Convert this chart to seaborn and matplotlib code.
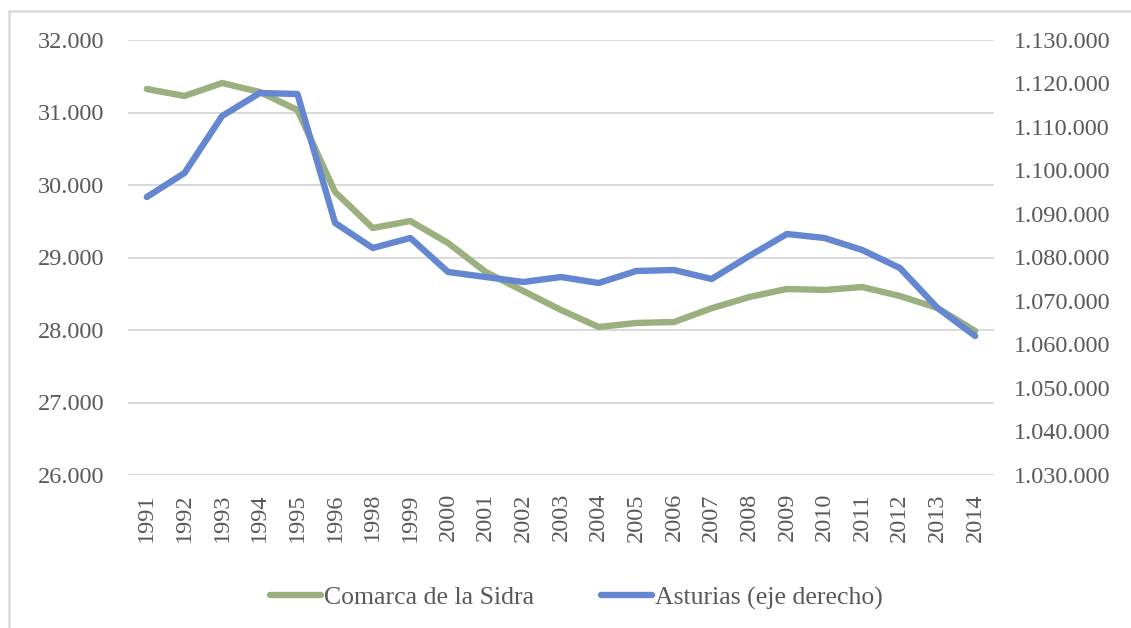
import numpy as np
import pandas as pd
import matplotlib
matplotlib.use('Agg')
import matplotlib.pyplot as plt
from matplotlib.patches import Rectangle
from matplotlib.ticker import FuncFormatter
import seaborn as sns

years = ['1991', '1992', '1993', '1994', '1995', '1996', '1998', '1999', '2000', '2001',
         '2002', '2003', '2004', '2005', '2006', '2007', '2008', '2009', '2010', '2011',
         '2012', '2013', '2014']
comarca = [31324, 31228, 31407, 31283, 31034, 29903, 29407, 29503, 29200, 28800,
           28538, 28276, 28041, 28097, 28110, 28300, 28455, 28566, 28552, 28593,
           28469, 28303, 27986]
asturias = [1093908, 1099425, 1112529, 1117816, 1117586, 1087931, 1082184, 1084483, 1076667, 1075517,
            1074368, 1075517, 1074138, 1076897, 1077126, 1075057, 1080345, 1085402, 1084483, 1081724,
            1077586, 1068391, 1061954]
left_ticks = [26000, 27000, 28000, 29000, 30000, 31000, 32000]
right_ticks = [1030000, 1040000, 1050000, 1060000, 1070000, 1080000, 1090000, 1100000, 1110000, 1120000, 1130000]

GREEN = '#9bb07f'
BLUE = '#6587d1'
TXT = '#595959'
GRID = '#d9d9d9'

sns.set_style('white')
plt.rcParams['font.family'] = ['Liberation Serif', 'DejaVu Serif']
plt.rcParams['font.size'] = 17.5

df = pd.DataFrame({'pos': np.arange(len(years)), 'comarca': comarca, 'asturias': asturias})

def miles(v, _):
	return f"{int(round(v)):,}".replace(',', '.')

fig = plt.figure(figsize=(11.31, 6.28), dpi=100)
ax = fig.add_axes([128/1131, 1-475/628, 866/1131, 435/628])
ax2 = ax.twinx()

sns.lineplot(data=df, x='pos', y='comarca', ax=ax, color=GREEN, lw=4.6, label='Comarca de la Sidra', legend=False)
sns.lineplot(data=df, x='pos', y='asturias', ax=ax2, color=BLUE, lw=4.6, label='Asturias (eje derecho)', legend=False)

ax.set_ylim(left_ticks[0], left_ticks[-1])
ax2.set_ylim(right_ticks[0], right_ticks[-1])
ax.set_yticks(left_ticks)
ax2.set_yticks(right_ticks)
ax.yaxis.set_major_formatter(FuncFormatter(miles))
ax2.yaxis.set_major_formatter(FuncFormatter(miles))
ax.set_xlim(-0.5, len(years)-0.5)
ax.set_xticks(df['pos'])
ax.set_xticklabels(years, rotation=90)

ax.grid(axis='y', color=GRID, lw=1.4)
ax.set_axisbelow(True)
for a in (ax, ax2):
	for s in a.spines.values():
		s.set_visible(False)
	a.set_xlabel('')
	a.set_ylabel('')
	a.tick_params(length=0, colors=TXT, labelsize=17.5)
ax.tick_params(axis='y', pad=17)
ax2.tick_params(axis='y', pad=14)
ax.tick_params(axis='x', pad=13)
ax.axhline(left_ticks[0], color=GRID, lw=1.4, zorder=0)

h1, l1 = ax.get_legend_handles_labels()
h2, l2 = ax2.get_legend_handles_labels()
fig.legend(h1+h2, l1+l2, loc='center', bbox_to_anchor=(576/1131, 1-598/628), ncol=2,
	frameon=False, fontsize=18.5, handlelength=2.0, handletextpad=0.1, columnspacing=2.6,
	labelcolor=TXT)

fig.patches.append(Rectangle((9/1131, -0.1), 1.2, 1-11/628+0.1, transform=fig.transFigure,
	fill=False, edgecolor=GRID, lw=1.8))

fig.savefig('out.png', dpi=100)
